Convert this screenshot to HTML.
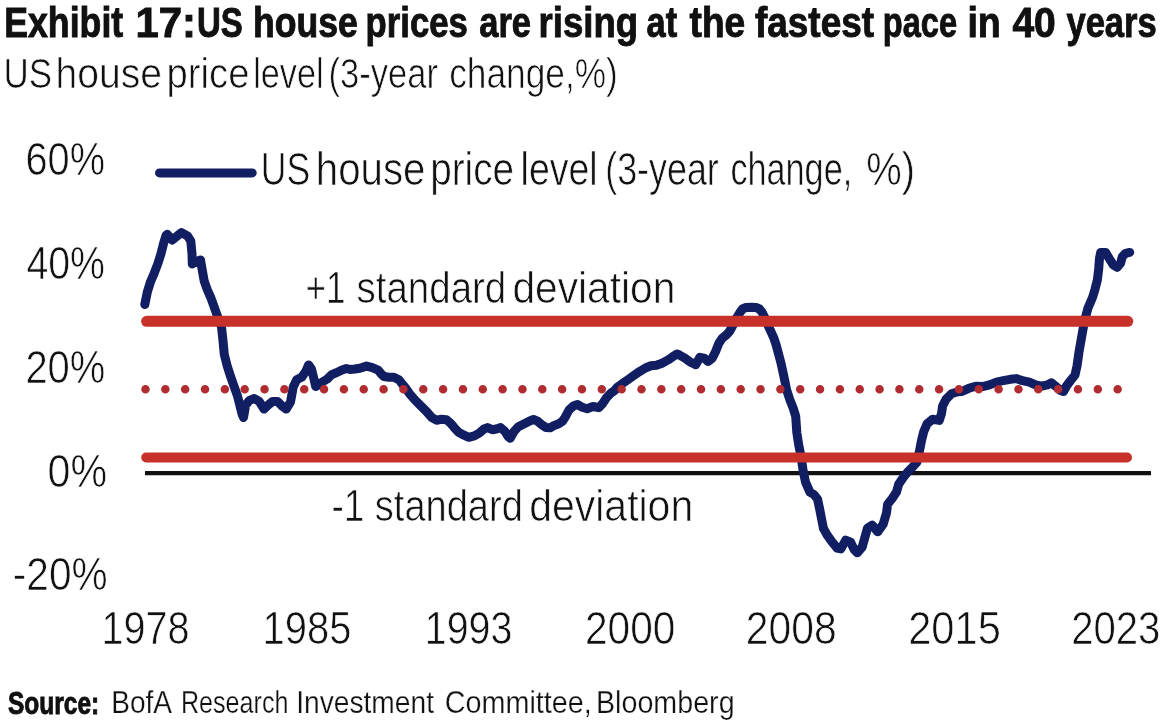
<!DOCTYPE html>
<html><head><meta charset="utf-8"><title>Exhibit 17</title>
<style>
html,body{margin:0;padding:0;background:#fff;}
body{width:1164px;height:724px;overflow:hidden;}
svg{display:block;}
text{font-family:'Liberation Sans', Arial, sans-serif;fill:#111;}
</style></head>
<body>
<svg width="1164" height="724" viewBox="0 0 1164 724">
<rect width="1164" height="724" fill="#fff"/>
<line x1="145" y1="473.1" x2="1151" y2="473.1" stroke="#111" stroke-width="4.2"/>
<path d="M144.8,304.5 L147.3,292.1 L150.4,282.1 L154.1,273.4 L157.9,263.5 L161.0,253.6 L163.5,243.6 L166.0,235.6 L167.2,234.3 L172.2,239.9 L181.5,232.5 L187.7,236.2 L190.8,241.1 L192.0,253.6 L192.3,264.0 L196.1,261.7 L200.5,259.9 L202.4,271.0 L204.2,281.0 L207.3,289.7 L211.1,298.4 L214.2,307.1 L216.8,314.5 L221.5,327.0 L223.0,340.7 L224.3,354.5 L227.1,365.6 L230.6,376.6 L234.0,386.3 L237.5,396.0 L240.0,406.0 L242.0,414.0 L243.5,417.5 L245.6,405.2 L249.5,400.4 L254.3,398.5 L259.2,401.4 L264.0,409.1 L267.9,405.2 L272.7,401.4 L277.5,401.4 L282.3,406.2 L286.2,409.1 L290.5,402.0 L293.2,387.2 L296.6,379.8 L301.6,377.3 L305.7,371.5 L308.6,364.9 L311.5,369.1 L314.0,379.0 L315.7,386.5 L319.0,384.8 L323.1,381.5 L327.3,379.0 L331.4,374.9 L336.4,372.7 L341.4,370.3 L346.3,368.6 L350.0,369.4 L354.9,369.0 L359.9,368.2 L366.5,366.1 L372.3,367.7 L378.1,370.2 L380.6,373.2 L383.9,376.5 L388.9,377.3 L393.9,377.3 L398.9,379.8 L403.0,385.0 L405.5,388.0 L409.9,394.1 L414.9,399.9 L420.7,405.7 L426.5,411.5 L431.5,417.3 L436.5,420.2 L441.4,419.3 L446.4,419.7 L450.5,423.1 L453.9,427.2 L458.5,432.3 L464.0,435.2 L468.8,437.3 L474.3,435.9 L479.2,433.1 L484.0,429.0 L487.5,427.6 L492.3,429.7 L496.4,429.0 L500.6,427.6 L504.7,431.1 L508.2,436.6 L510.2,438.3 L514.0,431.5 L518.3,426.8 L523.8,424.0 L529.3,421.2 L533.5,419.5 L537.6,421.2 L541.8,424.7 L545.9,427.5 L550.1,427.8 L554.2,425.4 L558.3,424.0 L562.5,421.2 L565.2,417.1 L569.0,410.0 L573.3,405.9 L577.4,404.5 L582.3,407.3 L587.1,408.7 L593.0,406.5 L598.8,407.7 L602.7,403.4 L606.6,397.6 L610.9,393.2 L614.8,390.3 L617.8,386.8 L623.3,382.9 L628.8,379.1 L634.3,375.2 L639.9,371.3 L645.4,368.0 L650.9,365.8 L656.4,365.3 L662.0,363.2 L668.1,359.9 L673.0,356.6 L677.0,354.0 L679.1,354.8 L684.9,358.1 L690.7,362.3 L695.7,364.7 L699.9,357.3 L704.0,358.1 L708.1,361.4 L712.3,358.1 L715.6,351.5 L718.9,343.2 L722.2,338.2 L726.4,334.9 L729.5,331.5 L733.0,325.0 L736.5,318.0 L739.6,313.0 L742.5,309.0 L746.0,307.5 L751.0,307.3 L756.0,307.5 L759.5,309.0 L762.0,312.2 L764.5,317.0 L767.0,323.0 L769.9,329.3 L773.8,337.8 L776.3,345.5 L778.8,354.9 L781.0,363.1 L784.1,377.4 L786.6,389.9 L789.9,399.8 L793.2,408.1 L795.7,416.4 L796.8,432.4 L798.7,444.9 L801.2,457.3 L803.0,469.8 L805.5,482.2 L809.9,492.1 L813.9,494.5 L817.5,499.0 L819.7,509.3 L821.6,519.0 L823.5,528.6 L827.4,535.4 L832.2,542.2 L837.1,548.0 L840.9,548.9 L845.7,540.2 L850.6,542.2 L854.4,549.9 L857.3,552.8 L862.2,547.0 L865.0,537.0 L867.5,528.0 L872.2,525.2 L877.7,531.8 L883.2,524.1 L886.5,513.0 L887.6,504.2 L892.0,498.7 L896.5,492.0 L898.7,484.3 L903.1,477.7 L907.5,472.2 L913.0,466.6 L917.0,462.0 L919.4,451.3 L921.6,440.2 L923.8,431.4 L927.1,423.7 L932.6,419.3 L939.3,420.4 L941.5,413.7 L942.6,406.0 L945.9,399.4 L951.4,393.8 L958.0,391.8 L961.9,391.5 L968.8,388.3 L975.7,386.2 L982.6,386.6 L989.5,384.9 L996.4,382.1 L1003.3,380.7 L1010.2,379.3 L1016.2,378.6 L1022.4,380.7 L1029.3,382.1 L1035.6,384.9 L1041.8,386.2 L1047.3,384.9 L1051.4,382.8 L1055.6,386.2 L1060.4,390.4 L1063.5,391.5 L1066.5,386.0 L1071.0,380.0 L1075.0,375.0 L1077.0,366.0 L1079.0,352.0 L1081.8,336.0 L1084.5,321.0 L1088.0,308.0 L1092.5,297.5 L1094.9,289.7 L1097.4,279.8 L1098.7,269.0 L1099.5,258.2 L1100.7,252.4 L1105.7,252.4 L1109.0,258.2 L1113.2,264.9 L1117.3,267.3 L1120.6,263.2 L1122.3,256.6 L1125.6,253.3 L1129.7,252.4" fill="none" stroke="#121e62" stroke-width="9" stroke-linejoin="round" stroke-linecap="round"/>
<line x1="146.6" y1="321.3" x2="1127.8" y2="321.3" stroke="#c8302a" stroke-width="11" stroke-linecap="round"/>
<line x1="146.2" y1="457.5" x2="1127" y2="457.5" stroke="#c8302a" stroke-width="10" stroke-linecap="round"/>
<line x1="145.5" y1="389.2" x2="1118" y2="389.2" stroke="#b02c30" stroke-width="8.5" stroke-linecap="round" stroke-dasharray="0 19.84"/>
<line x1="159.5" y1="172.9" x2="252.2" y2="172.9" stroke="#121e62" stroke-width="9" stroke-linecap="round"/>
<text x="4.2" y="37" font-size="42" font-weight="700" textLength="119.0" lengthAdjust="spacingAndGlyphs" stroke="#0c0c0c" stroke-width="0.9">Exhibit</text>
<text x="135.4" y="37" font-size="42" font-weight="700" textLength="60.6" lengthAdjust="spacingAndGlyphs" stroke="#0c0c0c" stroke-width="0.9">17:</text>
<text x="197.0" y="37" font-size="42" font-weight="700" textLength="45.8" lengthAdjust="spacingAndGlyphs" stroke="#0c0c0c" stroke-width="0.9">US</text>
<text x="253.0" y="37" font-size="42" font-weight="700" textLength="104.8" lengthAdjust="spacingAndGlyphs" stroke="#0c0c0c" stroke-width="0.9">house</text>
<text x="365.6" y="37" font-size="42" font-weight="700" textLength="102.2" lengthAdjust="spacingAndGlyphs" stroke="#0c0c0c" stroke-width="0.9">prices</text>
<text x="479.2" y="37" font-size="42" font-weight="700" textLength="51.8" lengthAdjust="spacingAndGlyphs" stroke="#0c0c0c" stroke-width="0.9">are</text>
<text x="538.6" y="37" font-size="42" font-weight="700" textLength="99.4" lengthAdjust="spacingAndGlyphs" stroke="#0c0c0c" stroke-width="0.9">rising</text>
<text x="646.6" y="37" font-size="42" font-weight="700" textLength="30.6" lengthAdjust="spacingAndGlyphs" stroke="#0c0c0c" stroke-width="0.9">at</text>
<text x="689.6" y="37" font-size="42" font-weight="700" textLength="55.6" lengthAdjust="spacingAndGlyphs" stroke="#0c0c0c" stroke-width="0.9">the</text>
<text x="755.0" y="37" font-size="42" font-weight="700" textLength="119.0" lengthAdjust="spacingAndGlyphs" stroke="#0c0c0c" stroke-width="0.9">fastest</text>
<text x="882.8" y="37" font-size="42" font-weight="700" textLength="74.2" lengthAdjust="spacingAndGlyphs" stroke="#0c0c0c" stroke-width="0.9">pace</text>
<text x="967.4" y="37" font-size="42" font-weight="700" textLength="33.4" lengthAdjust="spacingAndGlyphs" stroke="#0c0c0c" stroke-width="0.9">in</text>
<text x="1012.4" y="37" font-size="42" font-weight="700" textLength="43.4" lengthAdjust="spacingAndGlyphs" stroke="#0c0c0c" stroke-width="0.9">40</text>
<text x="1066.4" y="37" font-size="42" font-weight="700" textLength="90.4" lengthAdjust="spacingAndGlyphs" stroke="#0c0c0c" stroke-width="0.9">years</text>
<text x="3.4" y="88" font-size="42.5" font-weight="400" textLength="48.6" lengthAdjust="spacingAndGlyphs" stroke="#fff" stroke-width="0.7">US</text>
<text x="55.6" y="88" font-size="42.5" font-weight="400" textLength="106.4" lengthAdjust="spacingAndGlyphs" stroke="#fff" stroke-width="0.7">house</text>
<text x="166.6" y="88" font-size="42.5" font-weight="400" textLength="82.8" lengthAdjust="spacingAndGlyphs" stroke="#fff" stroke-width="0.7">price</text>
<text x="253.2" y="88" font-size="42.5" font-weight="400" textLength="70.4" lengthAdjust="spacingAndGlyphs" stroke="#fff" stroke-width="0.7">level</text>
<text x="328.6" y="88" font-size="42.5" font-weight="400" textLength="109.4" lengthAdjust="spacingAndGlyphs" stroke="#fff" stroke-width="0.7">(3-year</text>
<text x="449.2" y="88" font-size="42.5" font-weight="400" textLength="168.6" lengthAdjust="spacingAndGlyphs" stroke="#fff" stroke-width="0.7">change,%)</text>
<text x="25.4" y="174.8" font-size="47" font-weight="400" textLength="79.6" lengthAdjust="spacingAndGlyphs" stroke="#fff" stroke-width="0.7">60%</text>
<text x="26.4" y="278.7" font-size="47" font-weight="400" textLength="78.6" lengthAdjust="spacingAndGlyphs" stroke="#fff" stroke-width="0.7">40%</text>
<text x="25.4" y="382.6" font-size="47" font-weight="400" textLength="80.0" lengthAdjust="spacingAndGlyphs" stroke="#fff" stroke-width="0.7">20%</text>
<text x="47.6" y="486.5" font-size="47" font-weight="400" textLength="59.6" lengthAdjust="spacingAndGlyphs" stroke="#fff" stroke-width="0.7">0%</text>
<text x="12.8" y="590.4" font-size="47" font-weight="400" textLength="94.8" lengthAdjust="spacingAndGlyphs" stroke="#fff" stroke-width="0.7">-20%</text>
<text x="101.6" y="643.8" font-size="47" font-weight="400" textLength="88.0" lengthAdjust="spacingAndGlyphs" stroke="#fff" stroke-width="0.7">1978</text>
<text x="262.6" y="643.8" font-size="47" font-weight="400" textLength="88.8" lengthAdjust="spacingAndGlyphs" stroke="#fff" stroke-width="0.7">1985</text>
<text x="424.8" y="643.8" font-size="47" font-weight="400" textLength="87.6" lengthAdjust="spacingAndGlyphs" stroke="#fff" stroke-width="0.7">1993</text>
<text x="585.0" y="643.8" font-size="47" font-weight="400" textLength="90.4" lengthAdjust="spacingAndGlyphs" stroke="#fff" stroke-width="0.7">2000</text>
<text x="745.8" y="643.8" font-size="47" font-weight="400" textLength="90.8" lengthAdjust="spacingAndGlyphs" stroke="#fff" stroke-width="0.7">2008</text>
<text x="908.2" y="643.8" font-size="47" font-weight="400" textLength="92.6" lengthAdjust="spacingAndGlyphs" stroke="#fff" stroke-width="0.7">2015</text>
<text x="1071.2" y="643.8" font-size="47" font-weight="400" textLength="89.2" lengthAdjust="spacingAndGlyphs" stroke="#fff" stroke-width="0.7">2023</text>
<text x="260.8" y="184.5" font-size="45.5" font-weight="400" textLength="49.4" lengthAdjust="spacingAndGlyphs" stroke="#fff" stroke-width="0.7">US</text>
<text x="315.8" y="184.5" font-size="45.5" font-weight="400" textLength="109.6" lengthAdjust="spacingAndGlyphs" stroke="#fff" stroke-width="0.7">house</text>
<text x="430.2" y="184.5" font-size="45.5" font-weight="400" textLength="83.8" lengthAdjust="spacingAndGlyphs" stroke="#fff" stroke-width="0.7">price</text>
<text x="520.6" y="184.5" font-size="45.5" font-weight="400" textLength="77.0" lengthAdjust="spacingAndGlyphs" stroke="#fff" stroke-width="0.7">level</text>
<text x="605.2" y="184.5" font-size="45.5" font-weight="400" textLength="113.6" lengthAdjust="spacingAndGlyphs" stroke="#fff" stroke-width="0.7">(3-year</text>
<text x="730.4" y="184.5" font-size="45.5" font-weight="400" textLength="121.8" lengthAdjust="spacingAndGlyphs" stroke="#fff" stroke-width="0.7">change,</text>
<text x="866.2" y="184.5" font-size="45.5" font-weight="400" textLength="48.8" lengthAdjust="spacingAndGlyphs" stroke="#fff" stroke-width="0.7">%)</text>
<text x="305.4" y="302.8" font-size="44.5" font-weight="400" textLength="40.0" lengthAdjust="spacingAndGlyphs" stroke="#fff" stroke-width="0.7">+1</text>
<text x="356.6" y="302.8" font-size="44.5" font-weight="400" textLength="149.6" lengthAdjust="spacingAndGlyphs" stroke="#fff" stroke-width="0.7">standard</text>
<text x="512.4" y="302.8" font-size="44.5" font-weight="400" textLength="163.0" lengthAdjust="spacingAndGlyphs" stroke="#fff" stroke-width="0.7">deviation</text>
<text x="331.4" y="520.8" font-size="44.5" font-weight="400" textLength="33.0" lengthAdjust="spacingAndGlyphs" stroke="#fff" stroke-width="0.7">-1</text>
<text x="374.8" y="520.8" font-size="44.5" font-weight="400" textLength="148.0" lengthAdjust="spacingAndGlyphs" stroke="#fff" stroke-width="0.7">standard</text>
<text x="529.2" y="520.8" font-size="44.5" font-weight="400" textLength="164.0" lengthAdjust="spacingAndGlyphs" stroke="#fff" stroke-width="0.7">deviation</text>
<text x="8.0" y="713.5" font-size="31.5" font-weight="700" textLength="91.2" lengthAdjust="spacingAndGlyphs" stroke="#0c0c0c" stroke-width="0.9">Source:</text>
<text x="111.2" y="713" font-size="30.5" font-weight="400" textLength="60.8" lengthAdjust="spacingAndGlyphs" stroke="#fff" stroke-width="0.25">BofA</text>
<text x="181.0" y="713" font-size="30.5" font-weight="400" textLength="107.4" lengthAdjust="spacingAndGlyphs" stroke="#fff" stroke-width="0.25">Research</text>
<text x="296.2" y="713" font-size="30.5" font-weight="400" textLength="137.8" lengthAdjust="spacingAndGlyphs" stroke="#fff" stroke-width="0.25">Investment</text>
<text x="444.8" y="713" font-size="30.5" font-weight="400" textLength="147.0" lengthAdjust="spacingAndGlyphs" stroke="#fff" stroke-width="0.25">Committee,</text>
<text x="596.0" y="713" font-size="30.5" font-weight="400" textLength="138.6" lengthAdjust="spacingAndGlyphs" stroke="#fff" stroke-width="0.25">Bloomberg</text>
</svg>
</body></html>
